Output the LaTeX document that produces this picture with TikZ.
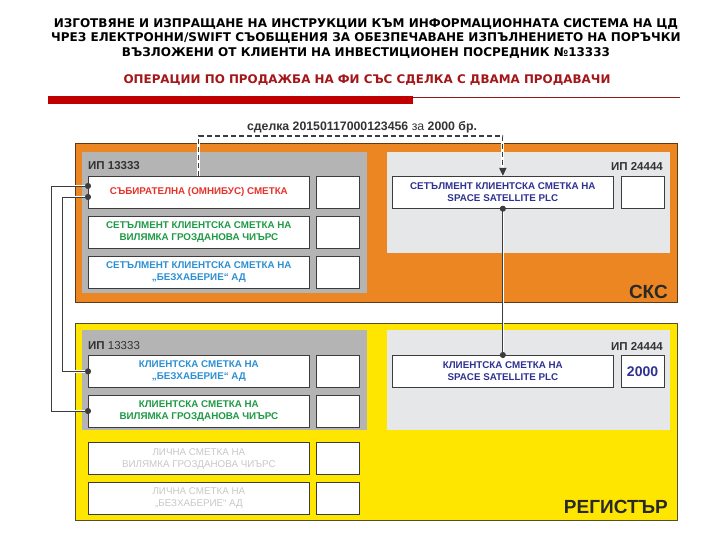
\documentclass[tikz,border=0pt]{standalone}
\usepackage{fontspec}
\setmainfont{Liberation Sans}
\newfontfamily\headfont{DejaVu Sans}
\usetikzlibrary{arrows.meta,positioning}
\definecolor{cdsOrange}{HTML}{EC8622}
\definecolor{cdsOrangeEdge}{HTML}{5C3A18}
\definecolor{cdsYellow}{HTML}{FFE600}
\definecolor{cdsYellowEdge}{HTML}{55502A}
\definecolor{cdsGray}{HTML}{B4B4B4}
\definecolor{cdsLight}{HTML}{E6E7E8}
\definecolor{cdsLine}{HTML}{3C3C3C}
\definecolor{cdsLabel}{HTML}{333333}
\definecolor{acctRed}{HTML}{E5332A}
\definecolor{acctGreen}{HTML}{1E9A46}
\definecolor{acctBlue}{HTML}{2B8FD4}
\definecolor{acctNavy}{HTML}{2E3192}
\definecolor{acctPale}{HTML}{C8C8C8}
\definecolor{headRed}{HTML}{A3161A}
\definecolor{barRed}{HTML}{C00000}
\definecolor{barDark}{HTML}{8E1B1B}

\begin{document}
\begin{tikzpicture}[
  x=1pt, y=-1pt,
  font=\bfseries\fontsize{9.8}{11.8}\selectfont,
  frame/.style={draw=#1, line width=1.2pt, minimum width=602pt, anchor=north west, inner sep=0pt},
  member/.style={draw=none, fill=#1, minimum width=285pt, minimum height=100pt, anchor=north west, inner sep=0pt},
  acct/.style={draw=cdsLine, fill=white, line width=0.7pt, minimum width=221pt, minimum height=32pt, inner sep=1pt, align=center},
  qty/.style={draw=cdsLine, fill=white, line width=0.7pt, minimum width=43pt, minimum height=32pt, inner sep=1pt},
  plabel/.style={font=\bfseries\fontsize{11.5}{13}\selectfont, text=cdsLabel, inner sep=0pt},
  big/.style={font=\bfseries\fontsize{19}{22}\selectfont, text=cdsLabel!80!black, inner sep=0pt},
  wire/.style={draw=cdsLine, line width=0.9pt, {Circle[length=6pt]}-{Circle[length=6pt]},
    shorten <=-3pt, shorten >=-3pt, preaction={draw=white, line width=2.6pt, -}},
  deal/.style={draw=cdsLine, line width=1.2pt, dash pattern=on 5pt off 3pt, -{Triangle[length=8pt,width=7pt]},
    preaction={draw=white, line width=3pt, solid, -}}
]
\useasboundingbox (0,0) rectangle (720,540);

% headings
\node[font=\headfont\bfseries\fontsize{12}{14.5}\selectfont, align=center, anchor=north, inner sep=0pt] (title) at (366,18)
  {ИЗГОТВЯНЕ И ИЗПРАЩАНЕ НА ИНСТРУКЦИИ КЪМ ИНФОРМАЦИОННАТА СИСТЕМА НА ЦД\\
   ЧРЕЗ ЕЛЕКТРОННИ/SWIFT СЪОБЩЕНИЯ ЗА ОБЕЗПЕЧАВАНЕ ИЗПЪЛНЕНИЕТО НА ПОРЪЧКИ\\
   ВЪЗЛОЖЕНИ ОТ КЛИЕНТИ НА ИНВЕСТИЦИОНЕН ПОСРЕДНИК №13333};
\node[font=\headfont\bfseries\fontsize{11.9}{14}\selectfont, text=headRed, anchor=base, inner sep=0pt] (subtitle) at (367,84)
  {ОПЕРАЦИИ ПО ПРОДАЖБА НА ФИ СЪС СДЕЛКА С ДВАМА ПРОДАВАЧИ};
\fill[barRed] (48,96) rectangle (413,104);
\draw[barDark, line width=1.6pt] (413,97.5) -- (680,97.5);

% СКС
\node[frame=cdsOrangeEdge, fill=cdsOrange, minimum height=159pt] (cks) at (75,143) {};
\node[member=cdsGray, minimum height=141pt] (cksA) at (82,152) {};
\node[member=cdsLight, minimum width=283pt, minimum height=101pt] (cksB) at (387,152) {};
\node[plabel, anchor=west] (ipA) at (88,166) {ИП 13333};
\node[plabel, anchor=east] (ipB) at (663,166) {ИП 24444};

\node[acct, text=acctRed, anchor=north west] (omni) at (88,176) {СЪБИРАТЕЛНА (ОМНИБУС) СМЕТКА};
\node[acct, text=acctGreen, below=7pt of omni] (setG) {СЕТЪЛМЕНТ КЛИЕНТСКА СМЕТКА НА\\ВИЛЯМКА ГРОЗДАНОВА ЧИЪРС};
\node[acct, text=acctBlue, below=7.5pt of setG] (setB) {СЕТЪЛМЕНТ КЛИЕНТСКА СМЕТКА НА\\„БЕЗХАБЕРИЕ“ АД};
\node[qty, right=6pt of omni] (omniQ) {};
\node[qty, right=6pt of setG] (setGQ) {};
\node[qty, right=6pt of setB] (setBQ) {};

\node[acct, text=acctNavy, anchor=north west] (ssl) at (392,176) {СЕТЪЛМЕНТ КЛИЕНТСКА СМЕТКА НА\\SPACE SATELLITE PLC};
\node[qty, right=7pt of ssl] (sslQ) {};
\node[big, anchor=south east] (cksName) at (668,299) {СКС};

% Регистър
\node[frame=cdsYellowEdge, fill=cdsYellow, minimum height=197pt] (reg) at (75,323) {};
\node[member=cdsGray] (regA) at (82,330) {};
\node[member=cdsLight, minimum width=283pt] (regB) at (387,330) {};
\node[plabel, anchor=west] (ipC) at (88,346) {ИП {\mdseries 13333}};
\node[plabel, anchor=east] (ipD) at (663,346) {ИП 24444};

\node[acct, text=acctBlue, anchor=north west] (cliB) at (88,355) {КЛИЕНТСКА СМЕТКА НА\\„БЕЗХАБЕРИЕ“ АД};
\node[acct, text=acctGreen, below=7pt of cliB] (cliG) {КЛИЕНТСКА СМЕТКА НА\\ВИЛЯМКА ГРОЗДАНОВА ЧИЪРС};
\node[acct, text=acctPale, font=\mdseries\fontsize{9.8}{11.8}\selectfont, below=15pt of cliG] (ownG) {ЛИЧНА СМЕТКА НА\\ВИЛЯМКА ГРОЗДАНОВА ЧИЪРС};
\node[acct, text=acctPale, font=\mdseries\fontsize{9.8}{11.8}\selectfont, below=7pt of ownG] (ownB) {ЛИЧНА СМЕТКА НА\\„БЕЗХАБЕРИЕ“ АД};
\node[qty, right=6pt of cliB] (cliBQ) {};
\node[qty, right=6pt of cliG] (cliGQ) {};
\node[qty, right=6pt of ownG] (ownGQ) {};
\node[qty, right=6pt of ownB] (ownBQ) {};

\node[acct, text=acctNavy, anchor=north west] (sslR) at (392,355) {КЛИЕНТСКА СМЕТКА НА\\SPACE SATELLITE PLC};
\node[qty, right=7pt of sslR, text=acctNavy, font=\bfseries\fontsize{14}{16}\selectfont] (sslRQ) {2000};
\node[big, anchor=south east] (regName) at (668,514) {РЕГИСТЪР};

% сделка
\node[font=\bfseries\fontsize{12.3}{14}\selectfont, text=cdsLabel, anchor=base, inner sep=0pt] (deal) at (362,131)
  {сделка 20150117000123456 {\mdseries за} 2000 бр.};
\draw[deal] (omni.north) -- ++(0,-40) -| (ssl.north);

% връзки
\coordinate (o1) at ([yshift=-10pt]omni.north west);
\coordinate (o2) at ([yshift=-21pt]omni.north west);
\draw[wire] (o1) -- ++(-37,0) |- (cliG.west);
\draw[wire] (o2) -- ++(-26,0) |- (cliB.west);
\draw[wire] (ssl.south) -- (sslR.north);
\end{tikzpicture}
\end{document}
